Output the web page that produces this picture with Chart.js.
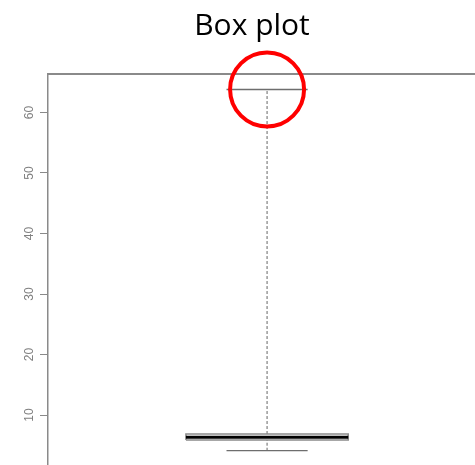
<!DOCTYPE html>
<html>
<head>
<meta charset="utf-8">
<script src="https://cdn.jsdelivr.net/npm/chart.js@4/dist/chart.umd.min.js"></script>
<style>
  html, body { margin: 0; padding: 0; overflow: hidden; background: #fff; }
</style>
</head>
<body>
<canvas id="boxChart" width="504" height="465"></canvas>
<script>
// five number summary
const statNames = ['min', 'q1', 'median', 'q3', 'max'];
const statValues = [4.1, 5.87, 6.31, 6.86, 63.8];
const tickValues = [10, 20, 30, 40, 50, 60];
const boxPos = 1;       // R puts the single box at x = 1
const boxHalf = 0.2;
const capHalf = 0.1;

const s = {};
statNames.forEach((n, i) => { s[n] = statValues[i]; });

const gray = '#8a8a8a';
const line = (pts, extra) => Object.assign({
  data: pts.map(p => ({ x: p[0], y: p[1] })),
  showLine: true,
  pointRadius: 0,
  borderColor: '#6e6e6e',
  borderWidth: 1.3,
  fill: false
}, extra);

const L = boxPos - boxHalf, R = boxPos + boxHalf;

const datasets = [
  // red highlight around the max cap
  {
    data: [{ x: boxPos, y: s.max }],
    showLine: false,
    pointRadius: 37,
    pointHoverRadius: 37,
    pointBackgroundColor: 'rgba(0,0,0,0)',
    pointBorderColor: '#ff0000',
    pointBorderWidth: 4,
    clip: false
  },
  line([[L, s.median], [R, s.median]], { borderColor: '#000', borderWidth: 3 }),
  line([[L, s.q1], [R, s.q1], [R, s.q3], [L, s.q3], [L, s.q1]], { borderColor: gray, borderWidth: 1.5 }),
  line([[boxPos - capHalf, s.max], [boxPos + capHalf, s.max]], {}),
  line([[boxPos - capHalf, s.min], [boxPos + capHalf, s.min]], {}),
  line([[boxPos, s.q3], [boxPos, s.max]], { borderDash: [3, 2], borderWidth: 1, borderColor: '#666' }),
  line([[boxPos, s.min], [boxPos, s.q1]], { borderDash: [3, 2], borderWidth: 1, borderColor: '#666' })
];

new Chart(document.getElementById('boxChart'), {
  type: 'scatter',
  data: { datasets: datasets },
  options: {
    responsive: false,
    animation: false,
    layout: { autoPadding: false, padding: 0 },
    plugins: {
      legend: { display: false },
      tooltip: { enabled: false },
      title: {
        display: true,
        text: 'Box plot',
        color: '#000',
        font: { family: '"Open Sans"', size: 30, weight: 'normal', lineHeight: 1.2 },
        padding: { top: 8, bottom: 30 }
      }
    },
    scales: {
      x: { type: 'linear', min: 0.46, max: 1.584, display: false },
      x2: {
        type: 'linear',
        position: 'top',
        display: true,
        ticks: { display: false },
        grid: { display: false },
        border: { display: true, color: gray, width: 2 },
        afterFit: sc => { sc.height = 0; sc.paddingLeft = 0; sc.paddingRight = 0; }
      },
      y: {
        type: 'linear',
        min: 1.74,
        max: 66.36,
        afterBuildTicks: sc => { sc.ticks = tickValues.map(v => ({ value: v })); },
        afterFit: sc => { sc.width = 48; sc.paddingTop = 0; sc.paddingBottom = 0; },
        ticks: {
          minRotation: 90,
          maxRotation: 90,
          crossAlign: 'center',
          padding: 4,
          color: '#808080',
          font: { family: '"Liberation Sans"', size: 12 }
        },
        grid: { drawOnChartArea: false, drawTicks: true, tickLength: 8, color: gray, lineWidth: 1 },
        border: { display: true, color: gray, width: 1.5 }
      }
    }
  }
});
</script>
</body>
</html>
